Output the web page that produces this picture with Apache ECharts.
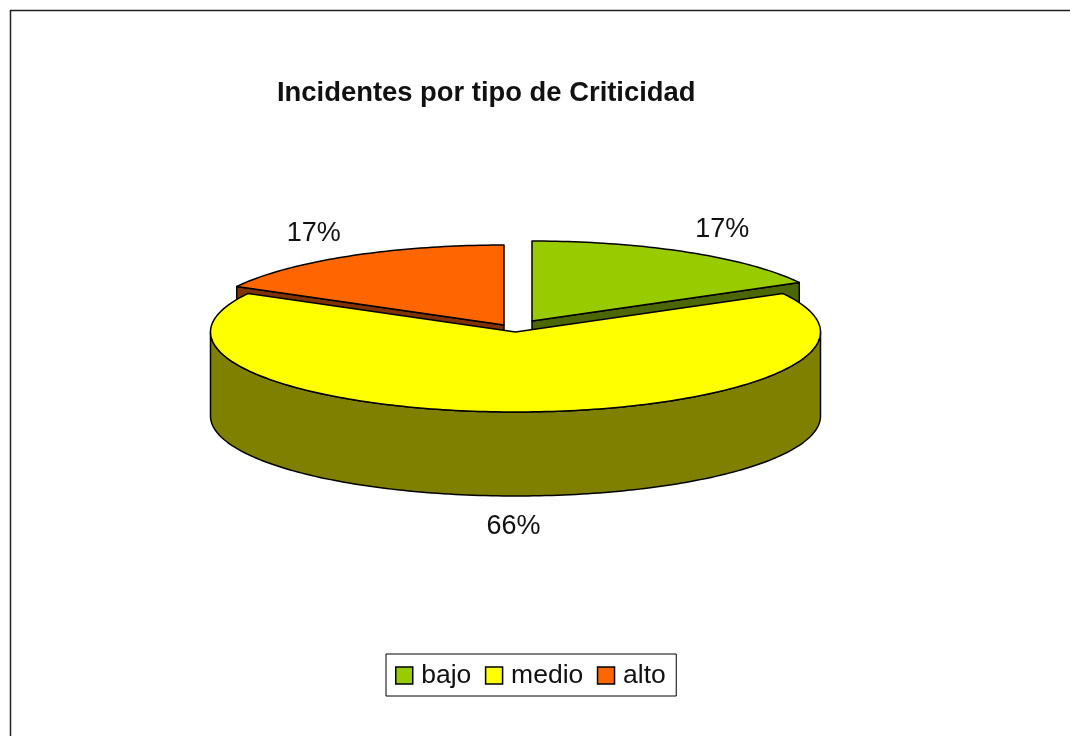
<!DOCTYPE html>
<html>
<head>
<meta charset="utf-8">
<title>Incidentes por tipo de Criticidad</title>
<script src="https://cdn.jsdelivr.net/npm/echarts@6/dist/echarts.min.js"></script>
<style>
  html, body { margin: 0; padding: 0; background: #fff; overflow: hidden; }
  #chart { width: 1070px; height: 736px; }
</style>
</head>
<body>
<div id="chart"></div>
<script>
// Incident share per criticality level
const categories = ['bajo', 'medio', 'alto'];
const values = [17, 66, 17];
const topColors = ['#99CC00', '#FFFF00', '#FF6600'];
const sideColors = ['#4C6600', '#808000', '#803300'];
const chartTitle = 'Incidentes por tipo de Criticidad';

// Projection of the tilted disc
const FONT = '"Liberation Sans", Arial, sans-serif';
const RX = 305, RY = 80, DEPTH = 84;
// Centre of each exploded slice on screen
const centres = [[532, 321], [515.5, 332], [504, 325]];
const total = values.reduce((a, b) => a + b, 0);

function startAngle(index) {
  let sum = 0;
  for (let i = 0; i < index; i++) sum += values[i];
  return sum / total * Math.PI * 2;
}

// Point on the rim; angle is clockwise from the top of the disc
function rim(c, a, drop) {
  return [c[0] + RX * Math.sin(a), c[1] - RY * Math.cos(a) + (drop || 0)];
}

function arc(c, from, to, drop) {
  const n = Math.max(2, Math.ceil(Math.abs(to - from) / 0.02));
  const pts = [];
  for (let i = 0; i <= n; i++) pts.push(rim(c, from + (to - from) * i / n, drop));
  return pts;
}

function makeRenderer(index) {
  return function (params, api) {
    const value = api.value(0);
    const c = centres[index];
    const a0 = startAngle(index);
    const a1 = a0 + value / total * Math.PI * 2;
    const line = { stroke: '#000', lineWidth: 1.5, lineJoin: 'round' };
    const children = [];
    const add = (points, fill) => children.push({
      type: 'polygon',
      shape: { points: points },
      style: Object.assign({ fill: fill }, line)
    });

    // Visible cut faces: the one turned towards the viewer
    if (index === 0) {
      const e = rim(c, a1);
      add([c, e, [e[0], e[1] + DEPTH], [c[0], c[1] + DEPTH]], sideColors[index]);
    }
    if (index === 2) {
      const s = rim(c, a0);
      add([c, s, [s[0], s[1] + DEPTH], [c[0], c[1] + DEPTH]], sideColors[index]);
    }
    // Outer wall, only along the front half of the rim
    const w0 = Math.max(a0, Math.PI / 2);
    const w1 = Math.min(a1, Math.PI * 1.5);
    if (w1 > w0) {
      add(arc(c, w0, w1).concat(arc(c, w1, w0, DEPTH)), sideColors[index]);
    }
    add([c].concat(arc(c, a0, a1)), topColors[index]);

    // Percentage label placed outside the slice's bisector
    const mid = (a0 + a1) / 2;
    const front = Math.cos(mid) < 0;
    children.push({
      type: 'text',
      style: {
        text: Math.round(value / total * 100) + '%',
        x: c[0] + RX * 1.225 * Math.sin(mid) - (front ? 2 : 0),
        y: c[1] - RY * 1.33 * Math.cos(mid) + (front ? DEPTH + 4 : 0),
        font: '27px ' + FONT,
        fill: '#111',
        align: 'center',
        verticalAlign: 'middle'
      }
    });
    return { type: 'group', children: children };
  };
}

const chart = echarts.init(document.getElementById('chart'), null, { renderer: 'canvas' });
chart.setOption({
  animation: false,
  backgroundColor: '#fff',
  title: {
    text: chartTitle,
    left: 277,
    top: 80,
    padding: 0,
    textStyle: { fontFamily: FONT, fontSize: 27.4, fontWeight: 'bold', color: '#111' }
  },
  legend: {
    data: categories,
    left: 386,
    top: 654,
    padding: [8, 10.5, 7, 9],
    itemGap: 13.5,
    itemWidth: 17,
    itemHeight: 17,
    icon: 'rect',
    selectedMode: false,
    borderColor: '#000',
    borderWidth: 1,
    itemStyle: { borderColor: '#000', borderWidth: 1.5 },
    textStyle: { fontFamily: FONT, fontSize: 26.5, color: '#111', padding: [0, 0, 0, 3.5] }
  },
  graphic: [
    { type: 'line', z: 0, shape: { x1: 10, y1: 10.5, x2: 1070, y2: 10.5 }, style: { stroke: '#222', lineWidth: 1.5 } },
    { type: 'line', z: 0, shape: { x1: 10.5, y1: 10, x2: 10.5, y2: 736 }, style: { stroke: '#222', lineWidth: 1.5 } }
  ],
  series: categories.map((name, i) => ({
    type: 'custom',
    name: name,
    coordinateSystem: 'none',
    // The large front slice sits above the two raised back slices
    z: i === 1 ? 3 : 2,
    silent: true,
    itemStyle: { color: topColors[i] },
    data: [[values[i]]],
    renderItem: makeRenderer(i)
  }))
});
</script>
</body>
</html>
